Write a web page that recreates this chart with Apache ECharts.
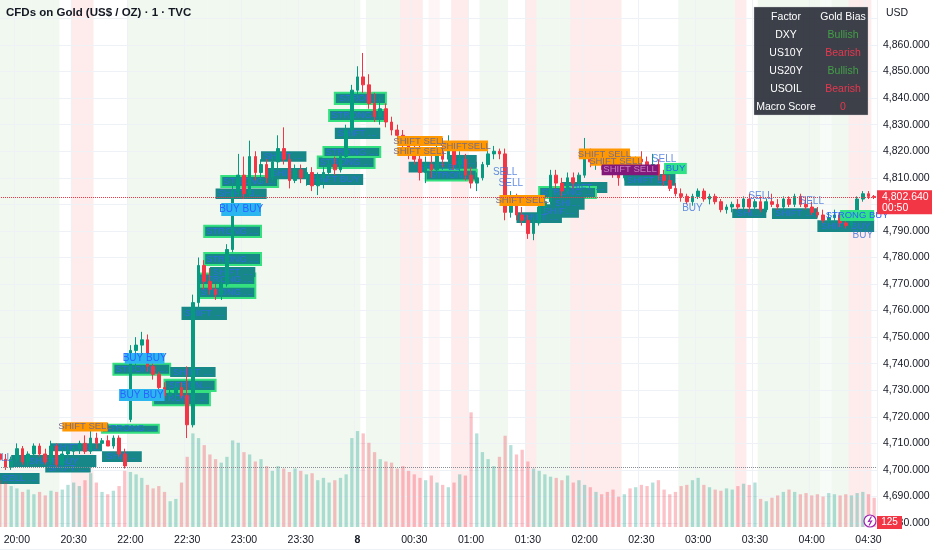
<!DOCTYPE html>
<html><head><meta charset="utf-8">
<script src="https://cdn.jsdelivr.net/npm/echarts@6/dist/echarts.min.js"></script>
<style>html,body{margin:0;padding:0;background:#fff}#c{width:932px;height:550px}</style>
</head><body><div id="c"></div>
<script>
// ---------- DATA ----------
const categories = [
 '19:51','19:54','19:57','20:00','20:03','20:06','20:09','20:12','20:15','20:18','20:21','20:24','20:27','20:30','20:33','20:36','20:39','20:42','20:45','20:48','20:51','20:54','20:57',
 '22:00','22:03','22:06','22:09','22:12','22:15','22:18','22:21','22:24','22:27','22:30','22:33','22:36','22:39','22:42','22:45','22:48','22:51','22:54','22:57',
 '23:00','23:03','23:06','23:09','23:12','23:15','23:18','23:21','23:24','23:27','23:30','23:33','23:36','23:39','23:42','23:45','23:48','23:51','23:54','23:57',
 '00:00','00:03','00:06','00:09','00:12','00:15','00:18','00:21','00:24','00:27','00:30','00:33','00:36','00:39','00:42','00:45','00:48','00:51','00:54','00:57',
 '01:00','01:03','01:06','01:09','01:12','01:15','01:18','01:21','01:24','01:27','01:30','01:33','01:36','01:39','01:42','01:45','01:48','01:51','01:54','01:57',
 '02:00','02:03','02:06','02:09','02:12','02:15','02:18','02:21','02:24','02:27','02:30','02:33','02:36','02:39','02:42','02:45','02:48','02:51','02:54','02:57',
 '03:00','03:03','03:06','03:09','03:12','03:15','03:18','03:21','03:24','03:27','03:30','03:33','03:36','03:39','03:42','03:45','03:48','03:51','03:54','03:57',
 '04:00','04:03','04:06','04:09','04:12','04:15','04:18','04:21','04:24','04:27','04:30','04:33'
];
// [open, high, low, close]
const ohlc = [
 [4706,4711,4702,4704],[4704,4706,4700,4701],[4701,4705,4700,4704],[4704,4710,4703,4708],[4708,4709,4702,4703],
 [4703,4707,4701,4706],[4706,4710,4705,4709],[4709,4710,4705,4706],[4706,4708,4702,4703],[4703,4711,4702,4709],
 [4709,4710,4701,4702],[4702,4708,4700,4706],[4706,4709,4704,4707],[4707,4709,4705,4708],[4708,4711,4706,4710],
 [4710,4713,4706,4707],[4707,4716,4706,4712],[4712,4714,4708,4710],[4710,4712,4708,4711],[4711,4713,4709,4709],
 [4709,4713,4708,4712],[4712,4713,4705,4706],[4706,4708,4700.5,4701.5],
 // 22:00
 [4719,4747,4718,4745],[4745,4750,4738,4747],[4747,4752,4744,4749],[4749,4751,4737,4739],[4739,4741,4734,4736],
 [4736,4737,4729,4731],[4731,4733,4727,4728],[4728,4731,4726,4729],[4729,4733,4727,4731],[4731,4733,4727,4728],
 [4728,4739,4712,4717],[4717,4766,4716,4763],[4763,4780,4760,4777],[4777,4779,4768,4771],[4771,4776,4766,4768],
 [4768,4770,4764,4766],[4766,4772,4764,4770],[4770,4785,4769,4783],[4783,4808,4782,4805],[4805,4819,4803,4811],
 // 23:00
 [4811,4818,4802,4804],[4804,4824,4803,4818],[4818,4820,4809,4812],[4812,4817,4808,4815],[4815,4817,4808,4810],
 [4810,4818,4809,4816],[4816,4826,4813,4821],[4821,4829,4815,4817],[4817,4819,4806,4809],[4809,4815,4808,4813],
 [4813,4815,4808,4810],[4810,4814,4807,4812],[4812,4814,4805,4807],[4807,4812,4803.5,4810],[4810,4814,4806,4812],
 [4812,4817,4810,4815],[4815,4818,4811,4813],[4813,4819,4812,4818],[4818,4830,4816,4828],[4828,4845,4827,4843],
 // 00:00
 [4843,4852,4840,4848],[4848,4857,4842,4845],[4845,4849,4836,4838],[4838,4842,4831,4833],[4833,4840,4830,4836],
 [4836,4838,4829,4831],[4831,4833,4826,4828],[4828,4830,4824,4826],[4826,4828,4821,4823],[4823,4825,4817,4819],
 [4819,4822,4815,4817],[4817,4822,4809,4812],[4812,4818,4808,4815],[4815,4820,4810,4813],[4813,4823,4811,4820],
 [4820,4822,4814,4817],[4817,4826,4815,4821],[4821,4823,4813,4815],[4815,4820,4810,4817],[4817,4819,4809,4811],
 // 01:00
 [4811,4814,4806,4808],[4808,4812,4805,4810],[4810,4816,4809,4815],[4815,4821,4814,4819],[4819,4822,4817,4820],
 [4820,4821,4817,4819],[4819,4821,4794,4797],[4797,4805,4795,4801],[4801,4804,4794,4796],[4796,4799,4792,4794],
 [4794,4796,4787,4789],[4789,4795,4786.5,4793],[4793,4801,4792,4799],[4799,4803,4797,4801],[4801,4813,4800,4811],
 [4811,4813,4806,4808],[4808,4810,4803,4805],[4805,4812,4804,4810],[4810,4812,4806,4808],[4808,4812,4807,4811],
 // 02:00
 [4811,4825,4810,4818],[4818,4821,4814,4816],[4816,4819,4813,4817],[4817,4819,4813,4815],[4815,4818,4812,4814],
 [4814,4817,4810,4812],[4812,4815,4807,4810],[4810,4818,4809,4816],[4816,4819,4813,4815],[4815,4818,4812,4817],
 [4817,4820,4814,4816],[4816,4818,4812,4813],[4813,4819,4812,4815],[4815,4817,4809,4811],[4811,4813,4807,4809],
 [4809,4811,4805,4806],[4806,4808,4803,4804],[4804,4806,4801,4803],[4803,4804,4800,4801],[4801,4804,4799.5,4803],
 // 03:00
 [4803,4806,4802,4805],[4805,4806,4801,4802],[4802,4804,4800,4803],[4803,4804,4800,4801],[4801,4802,4797,4798],
 [4798,4800,4796.5,4799],[4799,4801,4797,4800],[4800,4802,4798,4799],[4799,4803,4798,4802],[4802,4804,4797,4799],
 [4799,4802,4798,4801],[4801,4803,4797,4798],[4798,4802,4797,4801],[4801,4804,4799,4800],[4800,4802,4798,4799],
 [4799,4803,4798,4802],[4802,4803,4799,4800],[4800,4804,4799,4803],[4803,4804,4799,4800],[4800,4803,4798,4799],
 // 04:00
 [4799,4801,4796,4797],[4797,4799,4795,4796],[4796,4798,4793,4794],[4794,4797,4793,4795],[4795,4798,4793,4796],
 [4796,4797,4791.5,4793],[4793,4795,4791,4792],[4792,4797,4791,4795],[4795,4803,4794,4802],[4802,4805,4801,4804],
 [4804,4805,4802,4803],[4803,4803.5,4802,4802.64]
];
const volumes = [
 40,38,35,33,30,32,28,30,27,31,30,32,36,38,35,40,46,38,30,28,31,35,48,
 47,45,42,36,33,35,30,22,24,38,60,80,76,70,62,58,55,60,74,72,
 64,62,56,58,52,48,52,50,47,50,48,45,46,40,42,38,40,42,45,76,
 82,80,72,64,58,56,55,50,52,48,45,42,40,44,38,36,34,38,45,44,
 98,80,64,58,52,60,78,70,62,66,56,50,48,45,43,42,40,44,38,40,
 36,34,30,28,30,32,26,28,33,34,36,35,38,40,32,28,30,35,36,40,
 42,36,34,32,31,33,32,35,37,36,38,24,22,25,27,30,32,30,28,29,
 27,28,26,29,28,27,28,27,29,30,28,25
];
// background sessions: [first bar, last bar, kind]
const bands = [
 ['19:51','20:21','bull'],['20:30','20:39','bear'],
 ['22:00','00:00','bull'],['00:06','00:21','bull'],['00:24','00:33','bear'],['00:39','00:42','bearLight'],
 ['00:51','00:57','bear'],['01:06','01:18','bull'],['01:30','01:33','bear'],['01:36','01:51','bull'],
 ['01:54','02:18','bear'],['02:51','03:18','bull'],['03:21','03:24','bear'],['03:33','04:03','bull'],
 ['04:06','04:09','bullLight'],['04:12','04:18','bull'],['04:21','04:30','bear']
];
// zones: [start, end, low, high, kind, text]
const zones = [
 ['19:51','20:12',4694.7,4698.8,'ob','SELL BUY'],
 ['19:57','20:42',4701.1,4705.6,'ob','SHIFT BUY'],
 ['20:15','20:39',4699.0,4702.0,'ob','SHIFT BUY'],
 ['20:18','20:45',4707.0,4710.0,'ob','SHIFT BUY'],
 ['20:45','22:06',4703.0,4707.0,'ob','SHIFT BUY'],
 ['20:45','22:15',4714.0,4717.0,'strong','STRONG BUY'],
 ['20:51','22:21',4735.8,4740.0,'strong','STRONG BUY'],
 ['22:21','22:45',4735.0,4738.8,'ob','SHIFT BUY'],
 ['22:18','22:45',4729.7,4734.0,'strong','STRONG BUY'],
 ['22:12','22:42',4724.4,4729.3,'strong','STRONG BUY'],
 ['22:27','22:51',4756.5,4761.4,'ob','SHIFT BUY'],
 ['22:36','23:06',4764.7,4769.0,'strong','STRONG BUY'],
 ['22:36','23:06',4769.6,4774.0,'strong','STRONG BUY'],
 ['22:42','23:06',4772.6,4776.4,'ob','SHIFT BUY'],
 ['22:39','23:09',4777.2,4781.7,'strong','STRONG BUY'],
 ['22:39','23:09',4787.7,4791.9,'strong','STRONG BUY'],
 ['22:45','23:12',4802.0,4806.0,'ob','SHIFT BUY'],
 ['22:48','23:18',4806.5,4810.7,'strong','STRONG BUY'],
 ['23:09','23:33',4816.0,4820.0,'ob','SHIFT BUY'],
 ['23:12','23:33',4809.5,4813.7,'ob','SHIFT BUY'],
 ['23:33','00:03',4807.3,4811.4,'ob','SHIFT BUY'],
 ['23:39','00:09',4813.7,4818.0,'strong','STRONG BUY'],
 ['23:42','00:12',4817.8,4821.6,'strong','STRONG BUY'],
 ['23:48','00:12',4824.6,4828.8,'ob','SHIFT BUY'],
 ['23:45','00:15',4831.4,4835.5,'strong','STRONG BUY'],
 ['23:48','00:15',4837.8,4842.0,'strong','STRONG BUY'],
 ['00:27','01:03',4812.0,4816.0,'ob','SHIFT BUY'],
 ['00:36','01:03',4809.0,4813.0,'strong','STRONG BUY'],
 ['00:48','01:03',4814.0,4818.6,'ob','SHIFT BUY'],
 ['01:48','02:12',4804.3,4808.4,'ob','SHIFT BUY'],
 ['01:36','02:06',4802.4,4806.5,'strong','STRONG BUY'],
 ['01:42','02:00',4798.0,4803.0,'ob','SHIFT BUY'],
 ['01:36','01:57',4795.0,4800.0,'ob','SHIFT BUY'],
 ['01:24','01:48',4793.0,4797.0,'ob','SHIFT BUY'],
 ['02:21','02:48',4807.0,4811.4,'ob','SHIFT BUY'],
 ['03:18','03:36',4794.9,4798.3,'ob','SHIFT BUY'],
 ['03:39','04:03',4794.5,4798.5,'ob','SHIFT BUY'],
 ['04:03','04:33',4789.6,4794.0,'ob','SHIFT BUY'],
 ['20:24','20:48',4714.5,4718.0,'shift','SHIFT SELL'],
 ['20:54','22:18',4726.0,4730.5,'buyBuy','BUY BUY'],
 ['20:57','22:18',4740.0,4744.0,'buyBuy','BUY BUY'],
 ['22:48','23:09',4795.6,4800.5,'buyBuy','BUY BUY'],
 ['00:21','00:45',4822.0,4825.7,'shift','SHIFT SELL'],
 ['00:21','00:45',4818.2,4821.6,'shift','SHIFT SELL'],
 ['00:45','01:09',4820.0,4824.0,'shift','SHIFTSELL'],
 ['01:15','01:39',4799.4,4803.5,'shift','SHIFT SELL'],
 ['01:57','02:24',4817.0,4821.0,'shift','SHIFT SELL'],
 ['02:03','02:30',4814.5,4818.0,'shift','SHIFT SELL'],
 ['02:09','02:39',4811.0,4815.0,'rng','SHIFT SELL'],
 ['02:42','02:54',4811.4,4815.6,'buy','BUY'],
 ['04:15','04:33',4793.7,4797.9,'buy','STRONG BUY']
];
// plain text signals: [bar, price, text]
const signals = [
 ['19:51',4704.5,'SELL'],['01:18',4812.2,'SELL'],['01:21',4808.0,'SELL'],['02:42',4817.0,'SELL'],
 ['02:57',4798.6,'BUY'],['03:33',4803.0,'SELL'],['04:00',4801.0,'SELL'],['04:27',4788.5,'BUY']
];
const macroFactors = ['DXY','US10Y','US20Y','USOIL'];
const macroBias = ['Bullish','Bearish','Bullish','Bearish'];
const macroScore = '0';
const prevClose = 4701.1;
const countdown = '00:50';
const lastVolumeText = '125';
const chartTitle = 'CFDs on Gold (US$ / OZ) · 1 · TVC';

// ---------- STYLE ----------
const FONT = 'Liberation Sans, Arial, sans-serif';
const UP = '#089981', DOWN = '#f23645';
const bandColors = {
 bull:'rgba(76,175,80,0.085)', bullLight:'rgba(76,175,80,0.04)',
 bear:'rgba(242,54,69,0.10)', bearLight:'rgba(242,54,69,0.05)'
};
const kindStyle = {
 ob:{fill:'#178787', border:null, text:'#2f6fe0', size:9.5, fit:true},
 strong:{fill:'#178787', border:'#35e07f', text:'#2f6fe0', size:9.5, fit:true},
 shift:{fill:'#ff9800', border:null, text:'#7a6c84', size:9.5, fit:false},
 buyBuy:{fill:'#2cb6f0', border:null, text:'#2962ff', size:10, fit:false},
 rng:{fill:'#82197a', border:null, text:'#c77dc0', size:9.5, fit:false},
 buy:{fill:'#2fe384', border:null, text:'#2962ff', size:9.5, fit:false}
};

const catIndex = {};
categories.forEach((c,i)=>catIndex[c]=i);
const bandFill = categories.map(()=> 'rgba(0,0,0,0)');
bands.forEach(([s,e,k])=>{ for(let i=catIndex[s]; i<=catIndex[e]; i++) bandFill[i]=bandColors[k]; });

function fmtPrice(v){
 const s=v.toFixed(3).split('.');
 return s[0].replace(/\B(?=(\d{3})+(?!\d))/g, ',')+'.'+s[1];
}
const CAT_W = 880/categories.length;
function zoneItem(z){
 const st=kindStyle[z[4]];
 const lbl = {color:st.text, fontSize:st.size};
 if (st.fit) { lbl.width = Math.max(8,(catIndex[z[1]]-catIndex[z[0]])*CAT_W-2); lbl.overflow='truncate'; lbl.ellipsis='…'; }
 return [{name:z[5], xAxis:z[0], yAxis:z[2],
   itemStyle:{color:st.fill, borderColor:st.border||st.fill, borderWidth:st.border?2:0},
   label:lbl},
  {xAxis:z[1], yAxis:z[3]}];
}
const lowerKinds=['ob','strong'];
const lowerZones = zones.filter(z=>lowerKinds.includes(z[4])).map(zoneItem);
const upperZones = zones.filter(z=>!lowerKinds.includes(z[4])).map(zoneItem);
const lastClose = ohlc[ohlc.length-1][3];
const isMajor = (i, v) => { const s = typeof v==='string'?v:categories[i]; return s.endsWith(':00')||s.endsWith(':30'); };

const gridBase = {left:-3, right:55, outerBoundsMode:'none', containLabel:false};
const chart = echarts.init(document.getElementById('c'));
const option = {
 animation:false,
 textStyle:{fontFamily:FONT},
 grid:[
  Object.assign({top:-8.1, height:557.7}, gridBase),
  Object.assign({top:410, height:117}, gridBase),
  Object.assign({top:0, height:527}, gridBase)
 ],
 xAxis:[
  {type:'category', gridIndex:0, data:categories, show:false},
  {type:'category', gridIndex:1, data:categories, show:false},
  {type:'category', gridIndex:2, data:categories,
   axisLine:{show:false}, axisTick:{show:false},
   axisLabel:{interval:isMajor, color:'#131722', fontSize:10.5, margin:8,
     formatter:v=> v==='00:00' ? '{b|8}' : v, rich:{b:{fontWeight:'bold', fontSize:10.5, color:'#131722'}}},
   splitLine:{show:true, interval:isMajor, lineStyle:{color:'#eef1f5', width:1}}}
 ],
 yAxis:[
  {type:'value', gridIndex:0, position:'right', min:4670, max:4880, interval:10,
   axisLine:{show:false}, axisTick:{show:false},
   axisLabel:{color:'#131722', fontSize:10.5, margin:6,
     formatter:v=> (v<4675||v>4865)?'':fmtPrice(v)},
   splitLine:{lineStyle:{color:'#eef1f5', width:1}}},
  {type:'value', gridIndex:1, min:0, max:100, show:false},
  {type:'value', gridIndex:2, min:0, max:1, show:false}
 ],
 series:[
  {type:'bar', name:'bg', xAxisIndex:2, yAxisIndex:2, z:-1, silent:true,
   barWidth:'100%', barGap:'0%', barCategoryGap:'0%',
   data: bandFill.map(c=>({value:1, itemStyle:{color:c}}))},
  {type:'bar', name:'volume', xAxisIndex:1, yAxisIndex:1, z:1, silent:true, barWidth:'58%',
   data: volumes.map((v,i)=>({value:v, itemStyle:{color: ohlc[i][3]>=ohlc[i][0] ? 'rgba(8,153,129,0.30)' : 'rgba(242,54,69,0.30)'}}))},
  {type:'candlestick', name:'price', xAxisIndex:0, yAxisIndex:0, z:2, barWidth:'55%',
   data: ohlc.map(d=>[d[0], d[3], d[2], d[1]]),
   itemStyle:{color:UP, color0:DOWN, borderColor:UP, borderColor0:DOWN, borderWidth:1},
   markArea:{silent:true, z:1, label:{show:true, position:'inside', fontFamily:FONT}, data:lowerZones},
   markLine:{silent:true, symbol:['none','none'], label:{show:false}, z:5,
     data:[{yAxis:lastClose, lineStyle:{color:DOWN, type:'dotted', width:1}},
           {yAxis:prevClose, lineStyle:{color:'#8a8d96', type:'dotted', width:1}}]}},
  {type:'scatter', name:'signals', xAxisIndex:0, yAxisIndex:0, z:6, silent:true,
   symbolSize:1, itemStyle:{color:'rgba(0,0,0,0)'},
   data: signals.map(s=>[s[0], s[1], s[2]]),
   label:{show:true, position:'inside', formatter:p=>p.data[2], color:'#3d6fd8', fontSize:10, fontFamily:FONT},
   markArea:{silent:true, z:4, label:{show:true, position:'inside', fontFamily:FONT}, data:upperZones}}
 ]
};
chart.setOption(option);

const yLast = chart.convertToPixel({yAxisIndex:0}, lastClose);
const g = [];
g.push({type:'text', x:6, y:13, z:100, style:{text:chartTitle, fill:'#131722', font:'600 11.5px '+FONT, verticalAlign:'middle'}});
g.push({type:'text', x:886, y:13, z:100, style:{text:'USD', fill:'#131722', font:'10.5px '+FONT, verticalAlign:'middle'}});
// macro table
g.push({type:'rect', z:100, shape:{x:754, y:7, width:114, height:108}, style:{fill:'rgba(46,50,60,0.93)', stroke:'rgba(200,200,200,0.35)', lineWidth:1}});
const rows = [['Factor','Gold Bias','#ffffff']].concat(macroFactors.map((f,i)=>[f, macroBias[i], macroBias[i]==='Bullish'?'#43a047':'#e8374f'])).concat([['Macro Score', macroScore, '#e8374f']]);
rows.forEach((r,i)=>{
 const yy = 17 + i*18;
 g.push({type:'text', x:786, y:yy, z:101, style:{text:r[0], fill:'#ffffff', font:'10.5px '+FONT, align:'center', verticalAlign:'middle'}});
 g.push({type:'text', x:843, y:yy, z:101, style:{text:r[1], fill:r[2], font:'10.5px '+FONT, align:'center', verticalAlign:'middle'}});
});
// last price tag
g.push({type:'rect', z:100, shape:{x:877, y:yLast-7, width:55, height:24}, style:{fill:DOWN}});
g.push({type:'text', x:882, y:yLast, z:101, style:{text:fmtPrice(lastClose), fill:'#fff', font:'10.5px '+FONT, verticalAlign:'middle'}});
g.push({type:'text', x:882, y:yLast+11, z:101, style:{text:countdown, fill:'#fff', font:'10.5px '+FONT, verticalAlign:'middle'}});
// volume tag + icon
g.push({type:'rect', z:100, shape:{x:877, y:516, width:25, height:13}, style:{fill:DOWN}});
g.push({type:'text', x:889.5, y:522.5, z:101, style:{text:lastVolumeText, fill:'#fff', font:'10px '+FONT, align:'center', verticalAlign:'middle'}});
g.push({type:'circle', z:100, shape:{cx:870, cy:521, r:6}, style:{fill:'#fff', stroke:'#9c27b0', lineWidth:1.2}});
g.push({type:'polyline', z:101, shape:{points:[[871.5,516.5],[868.5,521.5],[871.5,521],[869,525.5]]}, style:{stroke:'#9c27b0', fill:null, lineWidth:1.2}});
chart.setOption({graphic:g});
</script>
</body></html>
